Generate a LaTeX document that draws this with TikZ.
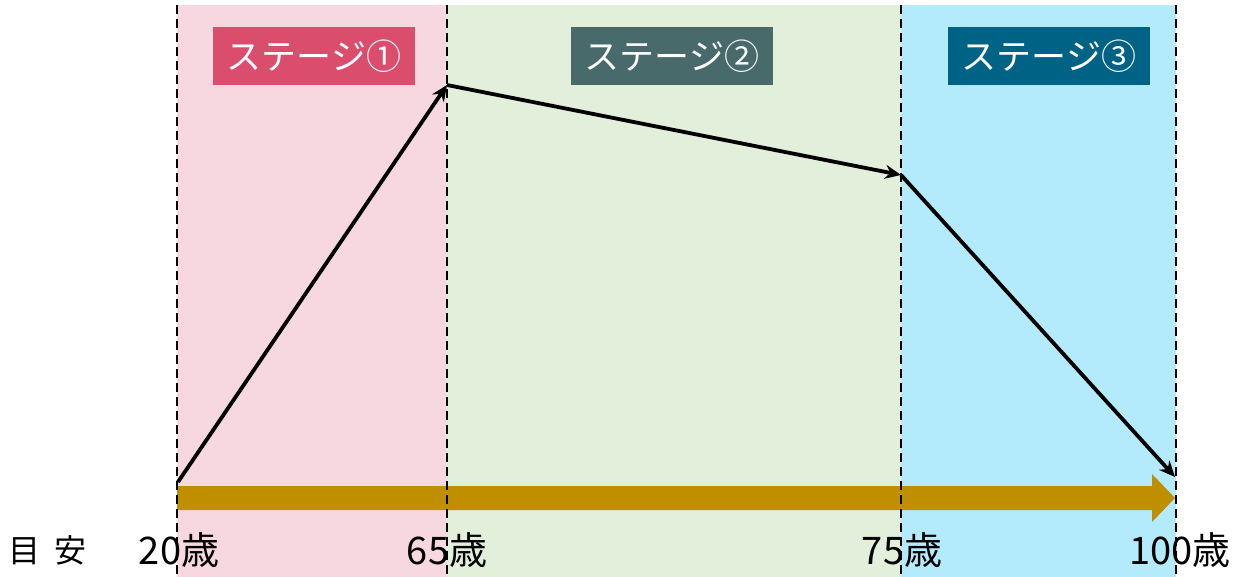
\documentclass[tikz,border=0pt]{standalone}
\usepackage{fontspec}
\setmainfont{Noto Sans CJK JP}
\usetikzlibrary{arrows.meta}
\definecolor{bgpink}{HTML}{F8D8E0}
\definecolor{bggreen}{HTML}{E2EFDA}
\definecolor{bgblue}{HTML}{B3EBFD}
\definecolor{stA}{HTML}{DB4D6D}
\definecolor{stB}{HTML}{486A6B}
\definecolor{stC}{HTML}{006385}
\definecolor{gold}{HTML}{BF8F00}
\tikzset{
  stagebox/.style={fill=#1, text=white, minimum width=101pt, minimum height=29pt, inner sep=0pt, font=\fontsize{17.5}{20}\selectfont},
  divider/.style={black, line width=1pt, dash pattern=on 4.5pt off 2.5pt},
  flow/.style={black, line width=1.9pt, -{Stealth[length=8pt,width=7pt]}},
  agelabel/.style={font=\fontsize{19}{22}\selectfont, inner sep=0pt}
}
\begin{document}
\begin{tikzpicture}[x=0.5pt,y=-0.5pt]
\useasboundingbox (0,0) rectangle (1242,577);
% backgrounds
\fill[bgpink] (177,5) rectangle (447,577);
\fill[bggreen] (447,5) rectangle (901,577);
\fill[bgblue] (901,5) rectangle (1176,577);
% stage labels
\node[stagebox=stA] (s1) at (314,56) {ステージ①};
\node[stagebox=stB] (s2) at (672,56) {ステージ②};
\node[stagebox=stC] (s3) at (1049,56) {ステージ③};
% golden timeline arrow
\fill[gold] (177,486) -- (1152,486) -- (1152,474) -- (1175,498) -- (1152,522) -- (1152,510) -- (177,510) -- cycle;
% dividers
\coordinate (d1t) at (177,5); \coordinate (d1b) at (177,577);
\coordinate (d2t) at (447,5); \coordinate (d2b) at (447,577);
\coordinate (d3t) at (901,5); \coordinate (d3b) at (901,577);
\coordinate (d4t) at (1176,5); \coordinate (d4b) at (1176,577);
\draw[divider] (d1t) -- (d1b);
\draw[divider] (d2t) -- (d2b);
\draw[divider] (d3t) -- (d3b);
\draw[divider] (d4t) -- (d4b);
% flow arrows
\coordinate (p0) at (178,482);
\coordinate (p1) at (447,85);
\coordinate (p2) at (901,175);
\coordinate (p3) at (1175,477);
\draw[flow] (p0) -- (p1);
\draw[flow] (p1) -- (p2);
\draw[flow] (p2) -- (p3);
% age labels
\node[agelabel, anchor=west, font=\fontsize{16}{19}\selectfont] (meyasu) at (8,550) {目\hspace{0.45em}安};
\node[agelabel] (a20) at (179,550) {20歳};
\node[agelabel] (a65) at (447,550) {65歳};
\node[agelabel] (a75) at (902,550) {75歳};
\node[agelabel] (a100) at (1180,550) {100歳};
\end{tikzpicture}
\end{document}
